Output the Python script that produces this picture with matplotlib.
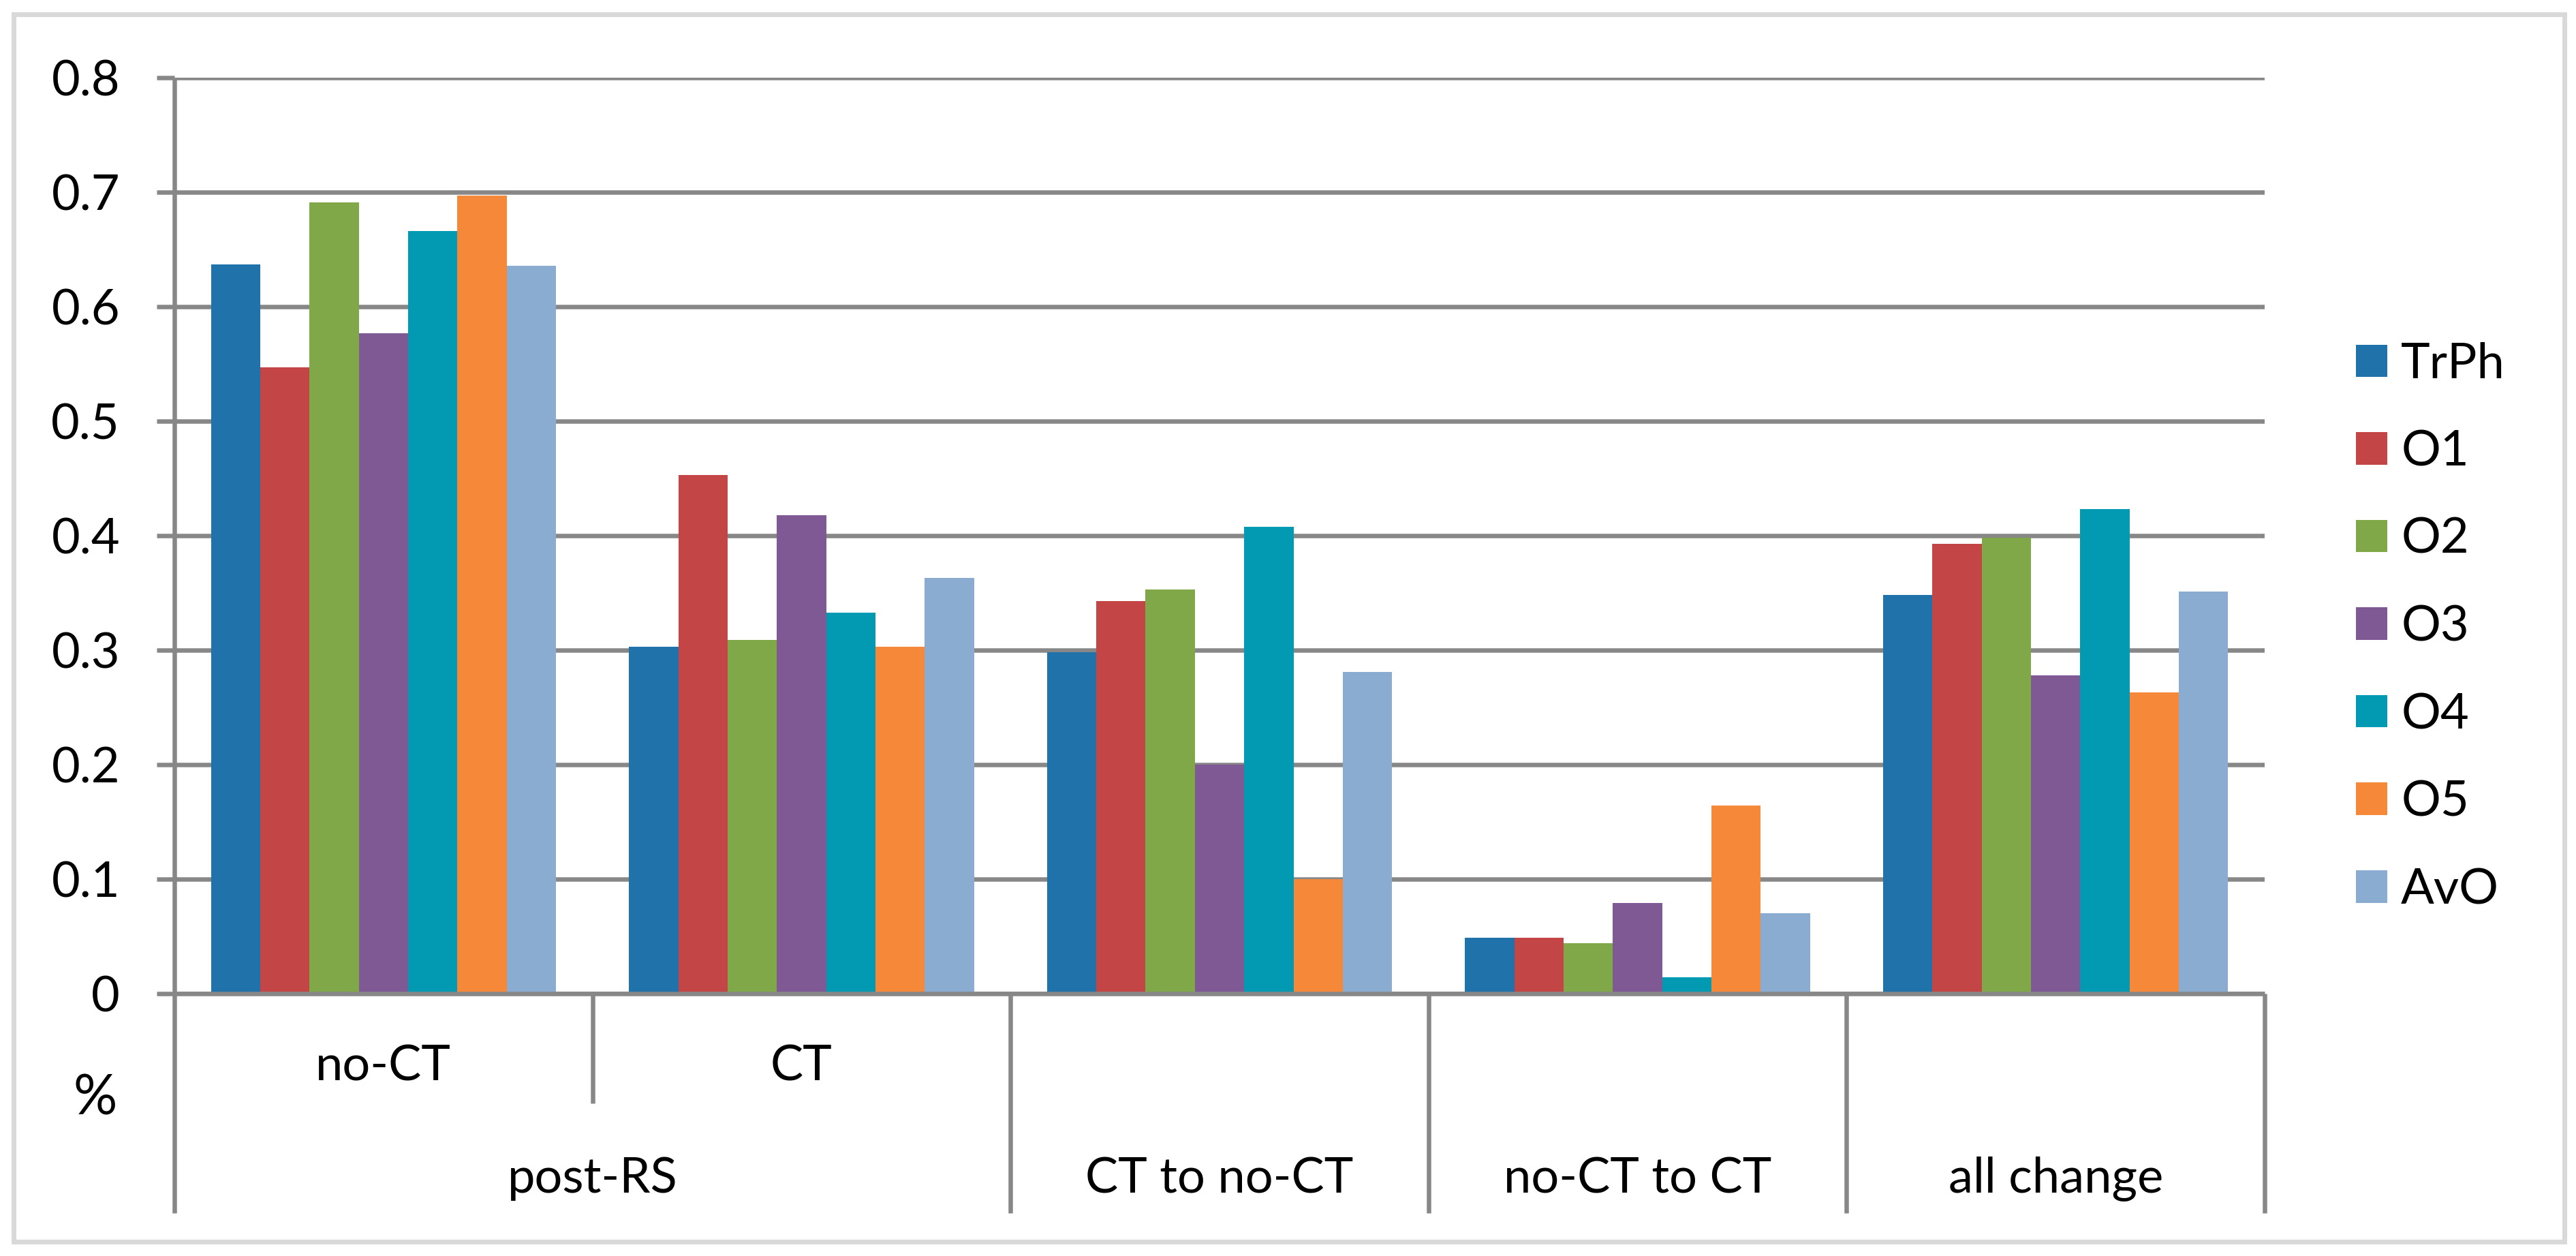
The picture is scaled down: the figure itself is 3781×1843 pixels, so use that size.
import numpy as np
import matplotlib
matplotlib.use("Agg")
import matplotlib.pyplot as plt
from matplotlib.patches import Rectangle
import matplotlib.transforms as mtransforms

plt.rcParams['font.family'] = ['Lato', 'DejaVu Sans']

# Данные
series = ["TrPh", "O1", "O2", "O3", "O4", "O5", "AvO"]
colors = ["#1F72AA", "#C44545", "#80A748", "#7F5993", "#029AB3", "#F58839", "#8BACD1"]
groups_low = ["no-CT", "CT", "", "", ""]
groups_top = ["post-RS", "CT to no-CT", "no-CT to CT", "all change"]
top_span = [(0, 2), (2, 3), (3, 4), (4, 5)]   # какие столбцы покрывает подпись верхнего уровня

trph = [0.637, 0.303, 0.298, 0.049, 0.348]
o1 = [0.547, 0.453, 0.343, 0.049, 0.393]
o2 = [0.691, 0.309, 0.353, 0.044, 0.398]
o3 = [0.577, 0.418, 0.200, 0.079, 0.278]
o4 = [0.666, 0.333, 0.408, 0.014, 0.423]
o5 = [0.697, 0.303, 0.100, 0.164, 0.263]
avo = [0.636, 0.363, 0.281, 0.070, 0.351]
values = [trph, o1, o2, o3, o4, o5, avo]

yticks = [0, 0.1, 0.2, 0.3, 0.4, 0.5, 0.6, 0.7, 0.8]
ytick_labels = ["0", "0.1", "0.2", "0.3", "0.4", "0.5", "0.6", "0.7", "0.8"]

W, H = 3781, 1843
DPI = 100
PX = 72 / DPI  # пиксели -> пункты

def fx(p):
    return p / W

def fy(p):
    return 1 - p / H

GRID = "#878787"
LW = 6.5 * PX
FS = 52

fig = plt.figure(figsize=(W / DPI, H / DPI), dpi=DPI)
ax = fig.add_axes([fx(256), fy(1458), fx(3324) - fx(256), fy(114) - fy(1458)])

n = len(series)
bw = 0.1179
x = np.arange(len(trph)) + 0.5
bars = []
for i in range(n):
    b = ax.bar(x + (i - (n - 1) / 2) * bw, values[i], bw, color=colors[i], label=series[i], zorder=3)
    bars.append(b)

ax.set_xlim(0, 5)
ax.set_ylim(0, 0.8)
ax.set_yticks(yticks)
ax.set_yticklabels(ytick_labels, fontsize=FS)
ax.set_xticks([])
for s in ax.spines.values():
    s.set_visible(False)
ax.set_axisbelow(True)
ax.yaxis.grid(True, color=GRID, linewidth=LW, zorder=0)
ax.tick_params(axis='y', length=26 * PX, width=LW, color=GRID, pad=54 * PX, direction='out')

# ось Y и категориальная ось (две строки подписей)
tr = mtransforms.blended_transform_factory(ax.transData, ax.transAxes)
ax_h = 1458 - 114
def ay(p):
    return (1458 - p) / ax_h

ax.plot([0, 0], [ay(1780), 1], color=GRID, lw=LW, transform=tr, clip_on=False, zorder=4, solid_capstyle='butt')
ax.plot([0, 5], [0, 0], color=GRID, lw=LW, transform=tr, clip_on=False, zorder=4, solid_capstyle='butt')
ax.plot([1, 1], [0, ay(1619)], color=GRID, lw=LW, transform=tr, clip_on=False, solid_capstyle='butt')
for xd in [2, 3, 4, 5]:
    ax.plot([xd, xd], [0, ay(1780)], color=GRID, lw=LW, transform=tr, clip_on=False, solid_capstyle='butt')

for i, lab in enumerate(groups_low):
    if lab:
        ax.text(i + 0.5, ay(1565), lab, transform=tr, ha='center', va='center', fontsize=FS)
for lab, (a, b) in zip(groups_top, top_span):
    ax.text((a + b) / 2, ay(1730), lab, transform=tr, ha='center', va='center', fontsize=FS)

fig.text(fx(140), fy(1613), "%", ha='center', va='center', fontsize=58)

# легенда
ax.legend(handles=bars, labels=series, loc='center left',
          bbox_to_anchor=(fx(3458), fy(920)), bbox_transform=fig.transFigure,
          frameon=False, borderpad=0, borderaxespad=0,
          handlelength=46 / (FS / PX), handleheight=46 / (FS / PX),
          handletextpad=0.28, labelspacing=0.88, fontsize=FS)

# рамка вокруг всей диаграммы
fig.patches.append(Rectangle((fx(19.5), fy(1822)), fx(3764) - fx(19.5), fy(21.5) - fy(1822),
                             transform=fig.transFigure, fill=False, edgecolor="#D9D9D9", linewidth=7 * PX))

fig.savefig("out.png", dpi=DPI)
